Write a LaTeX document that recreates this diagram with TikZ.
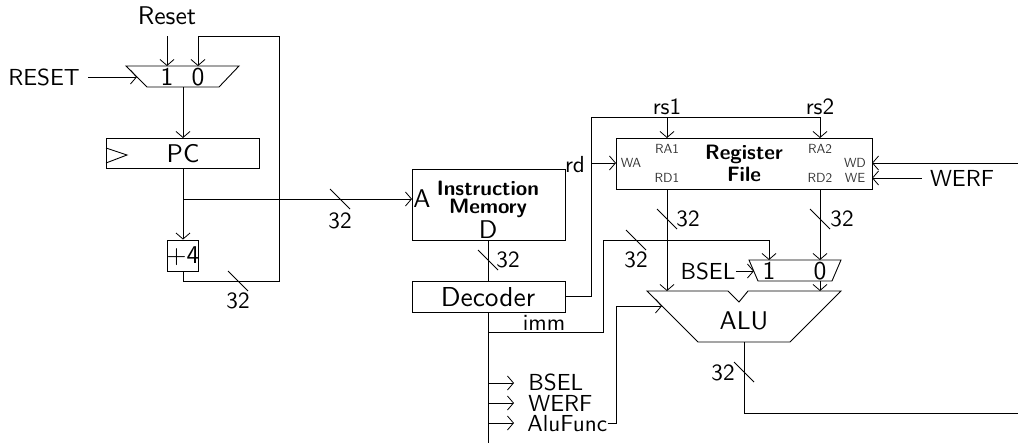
\documentclass[tikz,border=0pt]{standalone}
\usepackage{fontspec}
\setsansfont{lmsans10-regular.otf}[BoldFont=lmsans10-bold.otf]
\usetikzlibrary{arrows.meta}
\renewcommand{\familydefault}{\sfdefault}
\tikzset{
  x=0.5pt,y=-0.5pt,
  wire/.style={draw=black,line width=0.45pt},
  arr/.style={wire,-{Straight Barb[length=3pt,width=7pt,line width=0.4pt]}},
  lab/.style={inner sep=0pt,font=\fontsize{11.6}{13}\selectfont\sffamily},
  biglab/.style={inner sep=0pt,font=\fontsize{12.8}{15}\selectfont\sffamily},
  declab/.style={inner sep=0pt,font=\fontsize{13.7}{15}\selectfont\sffamily},
  tinylab/.style={inner sep=0pt,text=black!80,font=\fontsize{6.6}{7.5}\selectfont\sffamily},
  boldlab/.style={inner sep=0pt,align=center,font=\fontsize{10.4}{9}\selectfont\sffamily\bfseries},
  boxn/.style={draw=black,line width=0.45pt,inner sep=0pt,anchor=north west,minimum width=#1},
}
\newcommand{\busmark}[1]{\draw[wire] ([shift={(-10,-10)}]#1) -- ([shift={(10,10)}]#1);}
\begin{document}
\begin{tikzpicture}
\useasboundingbox (0,0) rectangle (1018,445);
% mux 1
\draw[wire] (126,66) -- (239,66) -- (219,87) -- (147,87) -- cycle;
\coordinate (m1a) at (167,66); \coordinate (m1b) at (198,66); \coordinate (m1l) at (137,77); \coordinate (m1o) at (183,87);
\node[biglab] (m1one) at (167,77) {1};
\node[biglab] (m1zero) at (198,77) {0};
\node[biglab] (resetT) at (167,16) {Reset};
\coordinate (resetS) at (167,36);
\node[lab] (resetL) at (44,77) {RESET};
\draw[arr] (resetS) -- (m1a);
\draw[arr] (resetL.east) ++(8,0) coordinate (resetO) -- (m1l);
% PC
\node[boxn=76.5pt,minimum height=15pt] (pc) at (106,138) {};
\node[biglab] at (183,154) {PC};
\draw[wire] (106,148) -- (127,155) -- (106,163);
\draw[arr] (m1o) -- (m1o |- pc.north);
% +4
\node[boxn=15.5pt,minimum height=15.5pt,draw,anchor=center] (plus) at (182.5,255.5) {};
\node[biglab] at (183,256) {+4};
\draw[arr] (m1o |- pc.south) -- (m1o |- plus.north);
% feedback
\coordinate (fb1) at (183,281); \coordinate (fb2) at (279,281); \coordinate (fb3) at (279,36); \coordinate (fb4) at (198,36);
\draw[arr] (m1o |- plus.south) -- (fb1) -- (fb2) -- (fb3) -- (fb4) -- (m1b);
\coordinate (s1) at (238,281); \busmark{s1}
\node[lab] at (238,301) {32};
% Instruction memory
\node[boxn=76.5pt,minimum height=35.5pt] (im) at (412,169) {};
\node[boldlab] at (488,199) {Instruction\\Memory};
\node[biglab] at (422,199) {A};
\node[biglab] at (488,230) {D};
\coordinate (br) at (183,199);
\draw[arr] (br) -- (br -| im.west);
\coordinate (s2) at (340,199); \busmark{s2}
\node[lab] at (340,221) {32};
% Decoder
\node[declab] at (488,297) {Decoder};
\node[boxn=76.5pt,minimum height=15.5pt] (dec) at (412,281) {};
\coordinate (imo) at (488,240);
\draw[wire] (imo) -- (imo |- dec.north);
\coordinate (s3) at (488,260); \busmark{s3}
\node[lab] at (508,260) {32};
% Register file
\node[boxn=128pt,minimum height=25.5pt] (rf) at (616,138) {};
\node[boldlab,font=\fontsize{10.4}{11}\selectfont\sffamily\bfseries] at (744,163) {Register\\File};
\node[tinylab] at (667,149) {RA1};
\node[tinylab] at (667,178) {RD1};
\node[tinylab] at (631,163) {WA};
\node[tinylab] at (820,149) {RA2};
\node[tinylab] at (820,178) {RD2};
\node[tinylab] at (855,163) {WD};
\node[tinylab] at (855,178) {WE};
\coordinate (d1) at (565,296); \coordinate (d2) at (591,296); \coordinate (d3) at (591,117); \coordinate (d4) at (820,117);
\coordinate (d5) at (667,117); \coordinate (d6) at (591,163);
\draw[arr] (d1) -- (d2) -- (d3) -- (d4) -- (d4 |- rf.north);
\draw[arr] (d5) -- (d5 |- rf.north);
\draw[arr] (d6) -- (d6 -| rf.west);
\node[lab] at (575,165) {rd};
\node[lab] at (667,107) {rs1};
\node[lab] at (820,107) {rs2};
\coordinate (wdin) at (1018,163); \coordinate (wdp) at (872,163);
\draw[arr] (wdin) -- (wdp);
\node[lab] (werf) at (962,178) {WERF};
\coordinate (wep) at (872,178);
\draw[arr] (werf.west) ++(-8,0) coordinate (weo) -- (wep);
% mux 2
\draw[wire] (749,260) -- (841,260) -- (832,281) -- (758,281) -- cycle;
\node[biglab] at (769,271) {1};
\node[biglab] at (820,271) {0};
\coordinate (m2a) at (769,260); \coordinate (m2b) at (820,260); \coordinate (m2l) at (754,271); \coordinate (m2o) at (820,281);
\node[lab] (bselm) at (708,271) {BSEL};
\draw[arr] (bselm.east) -- (m2l);
% ALU
\draw[wire] (647,291) -- (728,291) -- (739,302) -- (748,291) -- (841,291) -- (790,342) -- (698,342) -- cycle;
\node[biglab] at (744,321) {ALU};
\coordinate (alua) at (667,291); \coordinate (alub) at (820,291); \coordinate (aluf) at (662,306); \coordinate (aluo) at (744,342);
\coordinate (rd1) at (667,189); \coordinate (rd2) at (820,189);
\draw[arr] (rd1) -- (alua);
\coordinate (s4) at (667,219); \busmark{s4}
\node[lab] at (688,219) {32};
\draw[arr] (rd2) -- (m2b);
\coordinate (s5) at (820,219); \busmark{s5}
\node[lab] at (842,219) {32};
\draw[arr] (m2o) -- (alub);
% imm
\coordinate (i1) at (488,332); \coordinate (i2) at (603,332); \coordinate (i3) at (603,240); \coordinate (i4) at (769,240);
\draw[arr] (i1) -- (i2) -- (i3) -- (i4) -- (m2a);
\node[lab] at (544,323) {imm};
\coordinate (s6) at (636,240); \busmark{s6}
\node[lab] at (636,260) {32};
% control
\coordinate (ctlend) at (488,443);
\draw[wire] (dec.south -| imo) -- (ctlend);
\coordinate (c1) at (488,383); \coordinate (c2) at (488,403); \coordinate (c3) at (488,423);
\node[lab,anchor=west] (bselc) at (528,382) {BSEL};
\node[lab,anchor=west] (werfc) at (528,403) {WERF};
\node[lab,anchor=west] (alufc) at (527,424) {AluFunc};
\coordinate (t1) at (514,383); \coordinate (t2) at (514,403); \coordinate (t3) at (514,423);
\draw[arr] (c1) -- (t1);
\draw[arr] (c2) -- (t2);
\draw[arr] (c3) -- (t3);
\coordinate (f1) at (616,423); \coordinate (f2) at (616,306);
\draw[arr] (alufc.east |- c3) -- (f1) -- (f2) -- (aluf);
% ALU out
\coordinate (o1) at (744,413); \coordinate (o2) at (1018,413);
\draw[wire] (aluo) -- (o1) -- (o2);
\coordinate (s7) at (744,372); \busmark{s7}
\node[lab] at (723,373) {32};
\end{tikzpicture}
\end{document}
